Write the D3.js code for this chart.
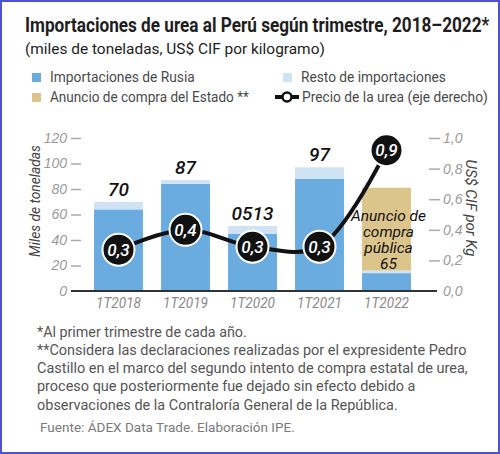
<!DOCTYPE html>
<html lang="es">
<head>
  <meta charset="UTF-8">
  <title>Importaciones de urea al Perú según trimestre</title>
  <script src="https://d3js.org/d3.v7.min.js"></script>
  <style>
    body {
      margin: 0;
      background-color: #fff;
    }
    svg {
      display: block;
      font-family: Roboto, "Noto Sans", sans-serif;
    }
    .tick text {
      font-style: italic;
      font-size: 14px;
      fill: #9a9a9a;
    }
    .tick line {
      stroke: #aaa;
      stroke-width: 1.5;
    }
  </style>
</head>
<body>
<div id="chart"></div>

<script>
  // Data
  const categories = ["1T2018", "1T2019", "1T2020", "1T2021", "1T2022"];
  const rusia = [64, 84, 45, 88, 14];        // Importaciones de Rusia
  const resto = [6, 3, 6, 9, 2];             // Resto de importaciones
  const anuncio = [0, 0, 0, 0, 65];          // Anuncio de compra del Estado
  const totalLabels = ["70", "87", "0513", "97", ""];
  const precio = [0.27, 0.40, 0.29, 0.29, 0.92];
  const precioLabels = ["0,3", "0,4", "0,3", "0,3", "0,9"];
  const leftTicks = [0, 20, 40, 60, 80, 100, 120];
  const rightTicks = [0, 0.2, 0.4, 0.6, 0.8, 1.0];

  const width = 500, height = 454;

  const colors = {
    rusia: "#6aabe0",
    resto: "#cfe3f5",
    anuncio: "#dcc58a"
  };

  const svg = d3.select("#chart").append("svg")
    .attr("width", width)
    .attr("height", height);

  // frame
  svg.append("rect")
    .attr("x", 1).attr("y", 1)
    .attr("width", width - 2).attr("height", height - 2)
    .attr("fill", "#fff")
    .attr("stroke", "#4b52d4")
    .attr("stroke-width", 2);

  // the original font is condensed: squeeze a text horizontally to a given width
  // pos is the translate/rotate part, the scale is added after measuring
  function fit(sel, pos, w) {
    const natural = sel.node().getComputedTextLength();
    sel.attr("transform", `${pos} scale(${w / natural},1)`);
    return sel;
  }

  // title block
  fit(svg.append("text")
    .attr("font-size", 20).attr("font-weight", 700)
    .attr("fill", "#1e1e1e")
    .text("Importaciones de urea al Perú según trimestre, 2018–2022*"), "translate(25,32)", 465);

  fit(svg.append("text")
    .attr("font-size", 15.5)
    .attr("fill", "#222")
    .text("(miles de toneladas, US$ CIF por kilogramo)"), "translate(25,54)", 300);

  // legend
  const legend = svg.append("g").attr("font-size", 15).attr("fill", "#4a4a4a");
  const legendItems = [
    {label: "Importaciones de Rusia", color: colors.rusia, x: 32, y: 82, w: 145},
    {label: "Resto de importaciones", color: colors.resto, x: 283, y: 82, w: 145},
    {label: "Anuncio de compra del Estado **", color: colors.anuncio, x: 32, y: 102, w: 199}
  ];
  legendItems.forEach(d => {
    legend.append("rect")
      .attr("x", d.x).attr("y", d.y - 9)
      .attr("width", 9).attr("height", 9)
      .attr("fill", d.color);
    fit(legend.append("text").text(d.label), `translate(${d.x + 18},${d.y})`, d.w);
  });
  legend.append("line")
    .attr("x1", 275).attr("x2", 299)
    .attr("y1", 97).attr("y2", 97)
    .attr("stroke", "#111").attr("stroke-width", 4);
  legend.append("circle")
    .attr("cx", 287).attr("cy", 97).attr("r", 4.5)
    .attr("fill", "#fff").attr("stroke", "#111").attr("stroke-width", 2.5);
  fit(legend.append("text").text("Precio de la urea (eje derecho)"), "translate(302,102)", 186);

  // scales
  const x = d3.scaleBand()
    .domain(categories)
    .range([85, 420])
    .paddingInner(0.27)
    .paddingOuter(0.135);

  const y = d3.scaleLinear().domain([0, 120]).range([291, 138]);
  const y2 = d3.scaleLinear().domain([0, 1]).range([291, 138]);

  const fmtComma = d3.formatLocale({decimal: ",", thousands: ".", grouping: [3], currency: ["", ""]}).format(".1f");

  // axes
  const gLeft = svg.append("g")
    .attr("transform", "translate(81,0)")
    .call(d3.axisLeft(y).tickValues(leftTicks).tickSize(10).tickPadding(4));
  gLeft.select(".domain").remove();
  gLeft.selectAll(".tick").filter(d => d === 0).select("line").remove();

  const gRight = svg.append("g")
    .attr("transform", "translate(429,0)")
    .call(d3.axisRight(y2).tickValues(rightTicks).tickSize(11).tickPadding(3).tickFormat(fmtComma));
  gRight.select(".domain").remove();
  gRight.selectAll(".tick").filter(d => d === 0).select("line").remove();

  // axis titles
  fit(svg.append("text")
    .attr("text-anchor", "middle")
    .attr("font-size", 15).attr("font-style", "italic")
    .attr("fill", "#444")
    .text("Miles de toneladas"), "translate(40,201) rotate(-90)", 112);

  fit(svg.append("text")
    .attr("text-anchor", "middle")
    .attr("font-size", 15).attr("font-style", "italic")
    .attr("fill", "#444")
    .text("US$ CIF por Kg"), "translate(466,208) rotate(90)", 97);

  // stacked bars
  const rows = categories.map((c, i) => ({
    cat: c, rusia: rusia[i], resto: resto[i], anuncio: anuncio[i]
  }));
  const stack = d3.stack().keys(["rusia", "resto", "anuncio"])(rows);

  svg.append("g").selectAll("g")
    .data(stack)
    .join("g")
    .attr("fill", s => colors[s.key])
    .selectAll("rect")
    .data(s => s)
    .join("rect")
    .attr("x", d => x(d.data.cat))
    .attr("width", x.bandwidth())
    .attr("y", d => y(d[1]))
    .attr("height", d => y(d[0]) - y(d[1]));

  // baseline
  svg.append("line")
    .attr("x1", 71).attr("x2", 437)
    .attr("y1", y(0)).attr("y2", y(0))
    .attr("stroke", "#333").attr("stroke-width", 2);

  // category labels
  svg.append("g").selectAll("text")
    .data(categories)
    .join("text")
    .attr("text-anchor", "middle")
    .attr("font-size", 15).attr("font-style", "italic")
    .attr("fill", "#8a8a8a")
    .text(d => d)
    .each(function(d) {
      fit(d3.select(this), `translate(${x(d) + x.bandwidth() / 2},308)`, 45);
    });

  // total labels above bars
  svg.append("g").selectAll("text")
    .data(categories)
    .join("text")
    .attr("x", d => x(d) + x.bandwidth() / 2)
    .attr("y", (d, i) => y(rusia[i] + resto[i]) - 6)
    .attr("text-anchor", "middle")
    .attr("font-size", 19).attr("font-style", "italic").attr("font-weight", 500)
    .attr("fill", "#111")
    .text((d, i) => totalLabels[i]);

  // price line
  const line = d3.line()
    .x((d, i) => x(categories[i]) + x.bandwidth() / 2)
    .y(d => y2(d))
    .curve(d3.curveCatmullRom.alpha(0.5));

  svg.append("path")
    .datum(precio)
    .attr("d", line)
    .attr("fill", "none")
    .attr("stroke", "#111")
    .attr("stroke-width", 4);

  // annotation inside the 2022 bar, one text block with tight lines
  const annLines = ["Anuncio de", "compra", "pública", String(anuncio[4])];
  const annX = x("1T2022") + x.bandwidth() / 2 + 2;
  svg.append("text")
    .attr("y", 221)
    .attr("text-anchor", "middle")
    .attr("font-size", 15.5).attr("font-style", "italic")
    .attr("fill", "#111")
    .selectAll("tspan")
    .data(annLines)
    .join("tspan")
    .attr("x", annX)
    .attr("dy", (d, i) => i === 0 ? 0 : 16)
    .text(d => d);

  // price markers
  const markers = svg.append("g").selectAll("g")
    .data(precio)
    .join("g")
    .attr("transform", (d, i) => `translate(${x(categories[i]) + x.bandwidth() / 2},${y2(d)})`);
  markers.append("circle")
    .attr("r", 16)
    .attr("fill", "#111")
    .attr("stroke", "#fff")
    .attr("stroke-width", 2);
  markers.append("text")
    .attr("text-anchor", "middle")
    .attr("dy", 6)
    .attr("font-size", 17).attr("font-style", "italic").attr("font-weight", 500)
    .attr("fill", "#fff")
    .text((d, i) => precioLabels[i]);

  // footnotes
  const notes = [
    {t: "*Al primer trimestre de cada año.", w: 210},
    {t: "**Considera las declaraciones realizadas por el expresidente Pedro", w: 430},
    {t: "Castillo en el marco del segundo intento de compra estatal de urea,", w: 431},
    {t: "proceso que posteriormente fue dejado sin efecto debido a", w: 379},
    {t: "observaciones de la Contraloría General de la República.", w: 361}
  ];
  const gNotes = svg.append("g").attr("font-size", 15).attr("fill", "#555");
  notes.forEach((n, i) => {
    fit(gNotes.append("text").text(n.t), `translate(37,${336.5 + i * 18.3})`, n.w);
  });

  fit(svg.append("text")
    .attr("font-size", 13)
    .attr("fill", "#7a7a7a")
    .text("Fuente: ÁDEX Data Trade. Elaboración IPE."), "translate(40,432)", 255);
</script>
</body>
</html>
